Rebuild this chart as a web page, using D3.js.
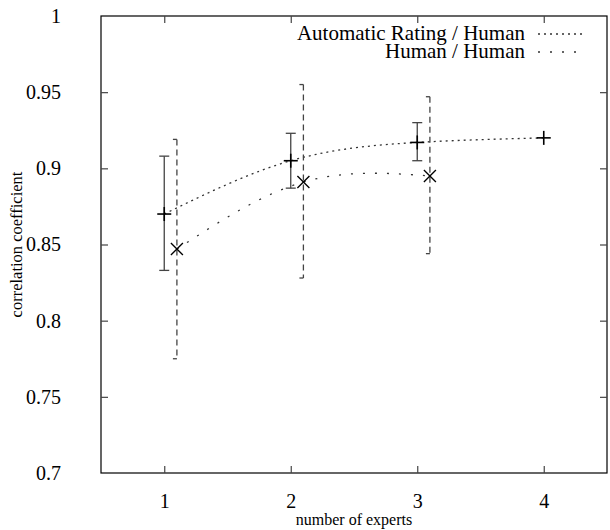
<!DOCTYPE html>
<html><head><meta charset="utf-8">
<script src="https://cdn.jsdelivr.net/npm/d3@7"></script>
<style>body{margin:0;background:#fff}svg text{font-family:"Liberation Serif","Times New Roman",serif;fill:#000}</style>
</head><body>
<svg id="c" width="610" height="530"></svg>
<script>
const xTicks = [1, 2, 3, 4];
const yTicks = [0.7, 0.75, 0.8, 0.85, 0.9, 0.95, 1];
const seriesNames = ["Automatic Rating / Human", "Human / Human"];
const autoX = [1, 2, 3, 4];
const autoY = [0.870, 0.905, 0.917, 0.920];
const autoLo = [0.833, 0.887, 0.905, 0.920];
const autoHi = [0.908, 0.923, 0.930, 0.920];
const humanX = [1.1, 2.1, 3.1];
const humanY = [0.847, 0.891, 0.895];
const humanLo = [0.775, 0.828, 0.844];
const humanHi = [0.919, 0.955, 0.947];

const svg = d3.select("#c");
const L = 101, R = 607, T = 16, B = 473;
const x = d3.scaleLinear().domain([0.5, 4.5]).range([L, R]);
const y = d3.scaleLinear().domain([0.7, 1]).range([B, T]);
const FS = 20;

// frame
svg.append("rect").attr("x", L).attr("y", T).attr("width", R - L).attr("height", B - T)
  .attr("fill", "none").attr("stroke", "#000").attr("stroke-width", 1.2);

// axes with inward ticks
const ax = svg.append("g").attr("transform", `translate(0,${B})`)
  .call(d3.axisBottom(x).tickValues(xTicks).tickSize(-7).tickPadding(21).tickFormat(d3.format("d")));
const axT = svg.append("g").attr("transform", `translate(0,${T})`)
  .call(d3.axisTop(x).tickValues(xTicks).tickSize(-7).tickFormat(""));
const ay = svg.append("g").attr("transform", `translate(${L},0)`)
  .call(d3.axisLeft(y).tickValues(yTicks).tickSize(-7).tickPadding(40).tickFormat(d => d3.format("")(+d.toFixed(2))));
const ayR = svg.append("g").attr("transform", `translate(${R},0)`)
  .call(d3.axisRight(y).tickValues(yTicks).tickSize(-7).tickFormat(""));
[ax, axT, ay, ayR].forEach(g => {
  g.select(".domain").remove();
  g.selectAll(".tick line").attr("stroke", "#444").attr("stroke-width", 1.2);
  g.selectAll("text").attr("font-size", FS).attr("font-family", "Liberation Serif");
});
ay.selectAll(".tick").filter(d => d === 0.7 || d === 1).select("line").remove();
ayR.selectAll(".tick").filter(d => d === 0.7 || d === 1).select("line").remove();

// axis titles
svg.append("text").attr("x", (L + R) / 2).attr("y", 525).attr("text-anchor", "middle")
  .attr("font-size", 16).text("number of experts");
svg.append("text").attr("transform", `translate(22,${(T + B) / 2}) rotate(-90)`)
  .attr("text-anchor", "middle").attr("font-size", 16.5).text("correlation coefficient");

// curves
const lineA = d3.line().x((d, i) => x(autoX[i])).y(d => y(d)).curve(d3.curveNatural);
svg.append("path").attr("d", lineA(autoY)).attr("fill", "none").attr("stroke", "#333")
  .attr("stroke-width", 1.3).attr("stroke-dasharray", "2,4");
const lineH = d3.line().x((d, i) => x(humanX[i])).y(d => y(d)).curve(d3.curveNatural);
svg.append("path").attr("d", lineH(humanY)).attr("fill", "none").attr("stroke", "#333")
  .attr("stroke-width", 1.3).attr("stroke-dasharray", "2,10");

// error bars series 1 (solid)
const gA = svg.append("g").attr("stroke", "#444").attr("stroke-width", 1.3);
autoX.forEach((xv, i) => {
  if (autoHi[i] !== autoLo[i]) {
    gA.append("line").attr("x1", x(xv)).attr("x2", x(xv)).attr("y1", y(autoLo[i])).attr("y2", y(autoHi[i]));
    [autoLo[i], autoHi[i]].forEach(v => gA.append("line").attr("x1", x(xv) - 5).attr("x2", x(xv) + 5)
      .attr("y1", y(v)).attr("y2", y(v)));
  }
  gA.append("line").attr("x1", x(xv) - 7).attr("x2", x(xv) + 7).attr("y1", y(autoY[i])).attr("y2", y(autoY[i])).attr("stroke", "#000").attr("stroke-width", 1.6);
  gA.append("line").attr("x1", x(xv)).attr("x2", x(xv)).attr("y1", y(autoY[i]) - 7).attr("y2", y(autoY[i]) + 7).attr("stroke", "#000").attr("stroke-width", 1.6);
});

// error bars series 2 (dashed)
const gH = svg.append("g").attr("stroke", "#444").attr("stroke-width", 1.3);
humanX.forEach((xv, i) => {
  gH.append("line").attr("x1", x(xv)).attr("x2", x(xv)).attr("y1", y(humanHi[i])).attr("y2", y(humanLo[i]))
    .attr("stroke-dasharray", "6,4");
  [humanLo[i], humanHi[i]].forEach(v => gH.append("line").attr("x1", x(xv) - 4).attr("x2", x(xv))
    .attr("y1", y(v)).attr("y2", y(v)));
  const cx = x(xv), cy = y(humanY[i]);
  gH.append("line").attr("x1", cx - 6).attr("x2", cx + 6).attr("y1", cy - 6).attr("y2", cy + 6).attr("stroke", "#000");
  gH.append("line").attr("x1", cx - 6).attr("x2", cx + 6).attr("y1", cy + 6).attr("y2", cy - 6).attr("stroke", "#000");
});

// legend
const leg = svg.append("g");
const legY = [34, 52];
const legDash = ["2,4", "2,10"];
seriesNames.forEach((n, i) => {
  leg.append("text").attr("x", 525).attr("y", legY[i] + 6).attr("text-anchor", "end").attr("font-size", 21).text(n);
  leg.append("line").attr("x1", 538).attr("x2", 583).attr("y1", legY[i]).attr("y2", legY[i])
    .attr("stroke", "#333").attr("stroke-width", 1.3).attr("stroke-dasharray", legDash[i]);
});
</script>
</body></html>
